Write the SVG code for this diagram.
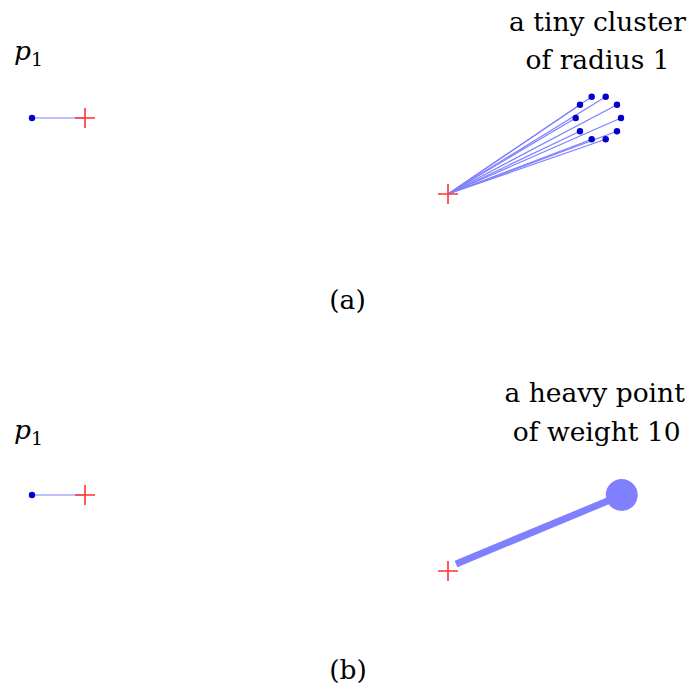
<svg xmlns="http://www.w3.org/2000/svg" width="691" height="696" viewBox="0 0 691 696">
<style>
text{font-family:"DejaVu Serif","Liberation Serif",serif;font-size:26.5px;fill:#000}
.c{text-anchor:middle}
.it{font-style:italic}
.sub{font-size:19px}
.ln{stroke:#8080ff;stroke-width:1.2;fill:none}
.dot{fill:#0000cc}
.cross{stroke:#ff3333;stroke-width:1.6;fill:none}
</style>
<defs>
<path id="cr" class="cross" d="M-10 0H10M0-10V10"/>
</defs>
<rect width="691" height="696" fill="#fff"/>
<g id="connectors">
<line class="ln" x1="32" y1="118" x2="85" y2="118"/>
<g class="ln">
<line x1="448" y1="194" x2="591.7" y2="96.7"/>
<line x1="448" y1="194" x2="605.7" y2="96.7"/>
<line x1="448" y1="194" x2="580" y2="104.7"/>
<line x1="448" y1="194" x2="617" y2="104.7"/>
<line x1="448" y1="194" x2="575.7" y2="118"/>
<line x1="448" y1="194" x2="621" y2="118"/>
<line x1="448" y1="194" x2="580" y2="131.3"/>
<line x1="448" y1="194" x2="617" y2="131.3"/>
<line x1="448" y1="194" x2="591.7" y2="139.3"/>
<line x1="448" y1="194" x2="605.7" y2="139.3"/>
</g>
<line class="ln" x1="32" y1="495" x2="85" y2="495"/>
<line x1="456" y1="564" x2="622" y2="495" stroke="#8080ff" stroke-width="7"/>
</g>
<g id="p1a">
<circle class="dot" cx="32" cy="118" r="3.2"/>
<text x="14" y="60" class="it">p</text><text x="31" y="66" class="sub">1</text>
</g>
<g id="crossA1"><use href="#cr" x="85" y="118"/></g>
<g id="cluster">
<circle class="dot" cx="591.7" cy="96.7" r="3.2"/>
<circle class="dot" cx="605.7" cy="96.7" r="3.2"/>
<circle class="dot" cx="580" cy="104.7" r="3.2"/>
<circle class="dot" cx="617" cy="104.7" r="3.2"/>
<circle class="dot" cx="575.7" cy="118" r="3.2"/>
<circle class="dot" cx="621" cy="118" r="3.2"/>
<circle class="dot" cx="580" cy="131.3" r="3.2"/>
<circle class="dot" cx="617" cy="131.3" r="3.2"/>
<circle class="dot" cx="591.7" cy="139.3" r="3.2"/>
<circle class="dot" cx="605.7" cy="139.3" r="3.2"/>
<text x="597.5" y="31" class="c">a tiny cluster</text>
<text x="597.5" y="69" class="c">of radius 1</text>
</g>
<g id="crossA2"><use href="#cr" x="448" y="194"/></g>
<g id="labelA"><text x="347.5" y="309" class="c">(a)</text></g>
<g id="p1b">
<circle class="dot" cx="32" cy="495" r="3.2"/>
<text x="14" y="439" class="it">p</text><text x="31" y="445" class="sub">1</text>
</g>
<g id="crossB1"><use href="#cr" x="85" y="495"/></g>
<g id="heavy">
<circle cx="621.7" cy="495" r="16" fill="#8080ff"/>
<text x="594.7" y="402" class="c">a heavy point</text>
<text x="596.7" y="441" class="c">of weight 10</text>
</g>
<g id="crossB2"><use href="#cr" x="448" y="571"/></g>
<g id="labelB"><text x="348" y="679" class="c">(b)</text></g>
</svg>
